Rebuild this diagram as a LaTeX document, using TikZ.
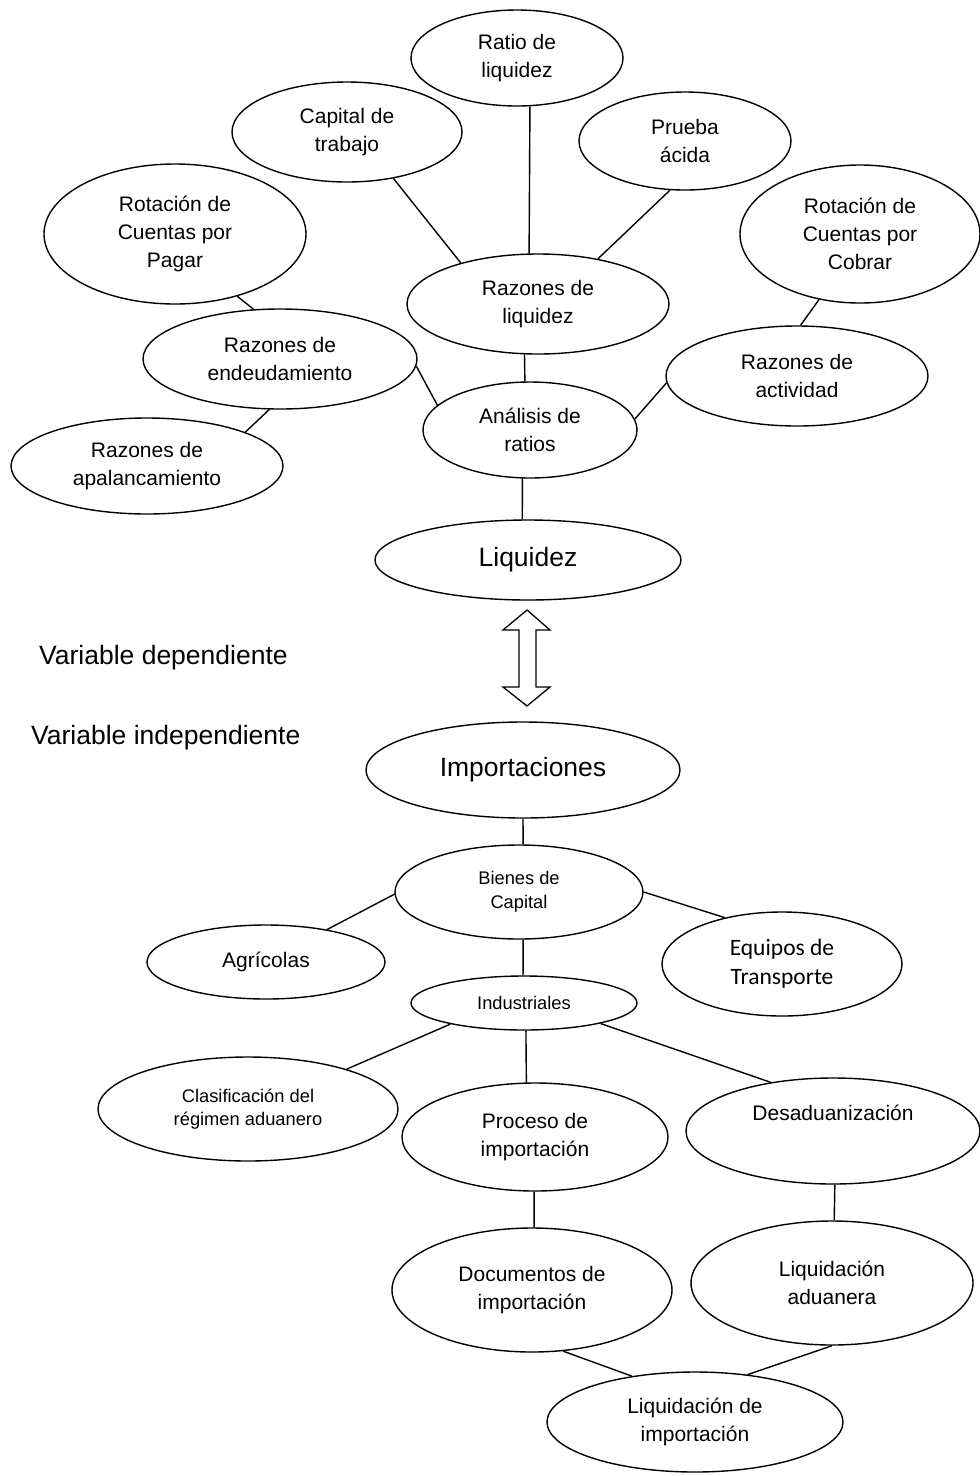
\documentclass[tikz,border=0pt]{standalone}
\usepackage{fontspec}
\setmainfont{Liberation Sans}
\newfontfamily\calib{Carlito}
\usetikzlibrary{shapes.geometric,calc}
\begin{document}
\begin{tikzpicture}[x=1pt,y=-1pt,
  ell/.style={draw, ellipse, line width=1.4pt, inner sep=0pt, align=center,
    font=\fontsize{21}{28}\selectfont},
  small/.style={font=\fontsize{18.3}{23.5}\selectfont},
  big/.style={font=\fontsize{26.5}{32}\selectfont},
  con/.style={line width=1.4pt}]
\fill[white] (0,0) rectangle (980,1476);
\useasboundingbox (0,0) rectangle (980,1476);

% upper tree
\node[ell, minimum width=212, minimum height=96] (ratio) at (517,58) {Ratio de\\liquidez};
\node[ell, minimum width=230, minimum height=100] (capital) at (347,132) {Capital de\\trabajo};
\node[ell, minimum width=212, minimum height=98] (prueba) at (685,141) {Prueba\\ácida};
\node[ell, minimum width=262, minimum height=140] (rotpag) at (175,234) {Rotación de\\Cuentas por\\Pagar};
\node[ell, minimum width=240, minimum height=138] (rotcob) at (860,234) {Rotación de\\Cuentas por\\Cobrar};
\node[ell, minimum width=262, minimum height=100] (razliq) at (538,304) {Razones de\\liquidez};
\node[ell, minimum width=274, minimum height=100] (endeud) at (280,359) {Razones de\\endeudamiento};
\node[ell, minimum width=262, minimum height=100] (activ) at (797,376) {Razones de\\actividad};
\node[ell, minimum width=214, minimum height=96] (analisis) at (530,430) {Análisis de\\ratios};
\node[ell, minimum width=272, minimum height=96] (apal) at (147,466) {Razones de\\apalancamiento};
\node[ell, big, minimum width=306, minimum height=80] (liquidez) at (528,560) {Liquidez};

\draw[con] (capital.-45.6) -- (razliq.152.9);
\draw[con] (ratio.-75) -- (razliq.100);
\draw[con] (prueba.253.3) -- (razliq.37.3);
\draw[con] (rotpag.-45) -- (endeud.118.8);
\draw[con] (rotcob.-122.2) -- (activ.86.6);
\draw[con] (razliq.-105.9) -- (analisis.96.6);
\draw[con] (endeud.-3.4) -- (analisis.165.1);
\draw[con] (activ.183.9) -- (analisis.6.5);
\draw[con] (endeud.-102.4) -- (apal.19.8);
\draw[con] (analisis.-99.5) -- (liquidez.98.5);

% double arrow
\coordinate (arr) at (527,658);
\draw[line width=1.3pt, line join=miter]
  ($(arr)+(0,-48)$) -- ($(arr)+(23,-28)$) -- ($(arr)+(9,-28)$) -- ($(arr)+(9,29)$)
  -- ($(arr)+(23,29)$) -- ($(arr)+(0,48)$) -- ($(arr)+(-24,29)$) -- ($(arr)+(-8,29)$)
  -- ($(arr)+(-8,-28)$) -- ($(arr)+(-24,-28)$) -- cycle;

\node[big, anchor=west, inner sep=0pt] (vdep) at (39,658) {Variable dependiente};
\node[big, anchor=west, inner sep=0pt] (vind) at (31,738) {Variable independiente};

% lower tree
\node[ell, big, minimum width=314, minimum height=96] (import) at (523,770) {Importaciones};
\node[ell, small, minimum width=248, minimum height=94] (bienes) at (519,892) {Bienes de\\Capital};
\node[ell, minimum width=238, minimum height=74] (agric) at (266,962) {Agrícolas};
\node[ell, font=\calib\fontsize{23.5}{29}\selectfont, minimum width=240, minimum height=104] (equipos) at (782,964) {Equipos de\\Transporte};
\node[ell, small, minimum width=226, minimum height=54] (indus) at (524,1003) {Industriales};
\node[ell, small, minimum width=300, minimum height=104] (clasif) at (248,1109) {Clasificación del\\régimen aduanero};
\node[ell, minimum width=266, minimum height=108] (proceso) at (535,1137) {Proceso de\\importación};
\node[ell, minimum width=294, minimum height=106] (desad) at (833,1131) {Desaduanización\\\strut};
\node[ell, minimum width=280, minimum height=124] (docum) at (532,1290) {Documentos de\\importación};
\node[ell, minimum width=282, minimum height=124] (liqadu) at (832,1283) {Liquidación\\aduanera};
\node[ell, minimum width=296, minimum height=100] (liqimp) at (695,1422) {Liquidación de\\importación};

\draw[con] (import.-90) -- (bienes.85);
\draw[con] (bienes.181.4) -- (agric.28.7);
\draw[con] (bienes.0.9) -- (equipos.141.9);
\draw[con] (bienes.-85.7) -- (indus.92);
\draw[con] (indus.-164.3) -- (clasif.22.2);
\draw[con] (indus.-86) -- (proceso.99.1);
\draw[con] (indus.-15.9) -- (desad.142.4);
\draw[con] (proceso.-91) -- (docum.88.3);
\draw[con] (desad.-88.9) -- (liqadu.88.2);
\draw[con] (docum.-63.8) -- (liqimp.144.9);
\draw[con] (liqadu.-90.9) -- (liqimp.42.7);
\end{tikzpicture}
\end{document}
